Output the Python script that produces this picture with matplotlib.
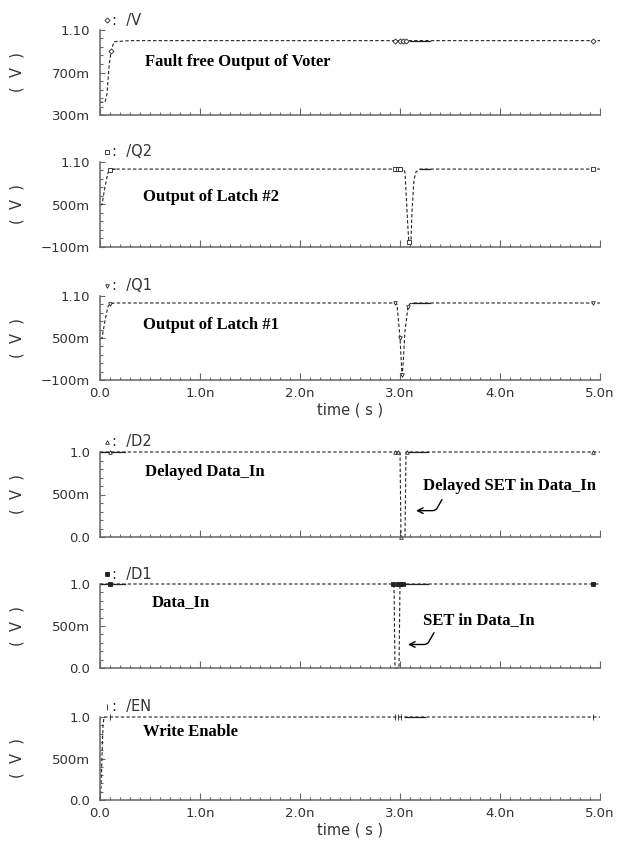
import matplotlib.pyplot as plt
import numpy as np

# time in ns, voltage in V
t_V = [0.0, 0.05, 0.07, 0.09, 0.11, 0.14, 0.3, 2.95, 3.0, 3.05, 3.1, 3.3, 4.93, 5.0]
y_V = [0.42, 0.42, 0.5, 0.75, 0.9, 0.99, 1.0, 1.0, 1.0, 1.0, 1.0, 1.0, 1.0, 1.0]
mt_V = [0.11, 2.95, 3.0, 3.03, 3.06, 4.93]
my_V = [0.9, 1.0, 1.0, 1.0, 1.0, 1.0]
solid_V = [(3.1, 3.3)]

t_Q2 = [0.0, 0.02, 0.05, 0.08, 0.1, 0.15, 2.9, 3.04, 3.05, 3.08, 3.09, 3.11, 3.12, 3.14, 3.16, 3.2, 3.3, 5.0]
y_Q2 = [0.49, 0.5, 0.75, 0.95, 0.99, 1.0, 1.0, 1.0, 0.95, 0.15, -0.05, 0.0, 0.4, 0.85, 0.96, 1.0, 1.0, 1.0]
mt_Q2 = [0.1, 2.95, 2.98, 3.0, 3.09, 4.93]
my_Q2 = [0.99, 1.0, 1.0, 1.0, -0.03, 1.0]
solid_Q2 = [(0.1, 0.15), (3.2, 3.3)]

t_Q1 = [0.0, 0.02, 0.05, 0.08, 0.1, 0.15, 2.95, 2.97, 3.0, 3.02, 3.03, 3.05, 3.08, 3.1, 3.12, 3.3, 5.0]
y_Q1 = [0.49, 0.5, 0.75, 0.95, 0.99, 1.0, 1.0, 0.98, 0.5, -0.03, 0.1, 0.6, 0.95, 0.99, 1.0, 1.0, 1.0]
mt_Q1 = [0.1, 2.95, 3.0, 3.02, 3.08, 4.93]
my_Q1 = [0.99, 1.0, 0.5, -0.03, 0.95, 1.0]
solid_Q1 = [(3.12, 3.3)]

t_D2 = [0.0, 0.25, 3.0, 3.01, 3.05, 3.06, 3.28, 5.0]
y_D2 = [1.0, 1.0, 1.0, 0.0, 0.0, 1.0, 1.0, 1.0]
mt_D2 = [0.1, 2.95, 2.98, 3.01, 3.07, 4.93]
my_D2 = [1.0, 1.0, 1.0, 0.0, 1.0, 1.0]
solid_D2 = [(0.0, 0.25), (3.06, 3.28)]

t_D1 = [0.0, 0.25, 2.94, 2.95, 2.99, 3.0, 3.28, 5.0]
y_D1 = [1.0, 1.0, 1.0, 0.0, 0.0, 1.0, 1.0, 1.0]
mt_D1 = [0.1, 2.93, 2.98, 3.0, 3.03, 4.93]
my_D1 = [1.0, 1.0, 1.0, 1.0, 1.0, 1.0]
solid_D1 = [(0.0, 0.25), (3.0, 3.28)]

t_EN = [0.0, 0.01, 0.03, 0.04, 0.1, 2.9, 3.05, 3.25, 5.0]
y_EN = [0.0, 0.15, 0.9, 1.0, 1.0, 1.0, 1.0, 1.0, 1.0]
mt_EN = [0.1, 2.95, 2.98, 3.01, 4.93]
my_EN = [1.0, 1.0, 1.0, 1.0, 1.0]
solid_EN = [(3.05, 3.25)]

x_ticks = [0, 1, 2, 3, 4, 5]
x_labels = ["0.0", "1.0n", "2.0n", "3.0n", "4.0n", "5.0n"]
yt_V, yl_V = [0.3, 0.7, 1.1], ["300m", "700m", "1.10"]
yt_Q, yl_Q = [-0.1, 0.5, 1.1], ["\u2212100m", "500m", "1.10"]
yt_D, yl_D = [0.0, 0.5, 1.0], ["0.0", "500m", "1.0"]

# name, ydata..., ylim, yticks, labels, minor step, marker, note text, note pos
panels = [
    ("/V", t_V, y_V, mt_V, my_V, solid_V, (0.3, 1.1), yt_V, yl_V, 0.08, "D",
     "Fault free Output of Voter", (0.45, 0.80)),
    ("/Q2", t_Q2, y_Q2, mt_Q2, my_Q2, solid_Q2, (-0.1, 1.1), yt_Q, yl_Q, 0.12, "s",
     "Output of Latch #2", (0.43, 0.60)),
    ("/Q1", t_Q1, y_Q1, mt_Q1, my_Q1, solid_Q1, (-0.1, 1.1), yt_Q, yl_Q, 0.12, "v",
     "Output of Latch #1", (0.43, 0.68)),
    ("/D2", t_D2, y_D2, mt_D2, my_D2, solid_D2, (0.0, 1.0), yt_D, yl_D, 0.1, "^",
     "Delayed Data_In", (0.45, 0.76)),
    ("/D1", t_D1, y_D1, mt_D1, my_D1, solid_D1, (0.0, 1.0), yt_D, yl_D, 0.1, "s",
     "Data_In", (0.52, 0.79)),
    ("/EN", t_EN, y_EN, mt_EN, my_EN, solid_EN, (0.0, 1.0), yt_D, yl_D, 0.1, "|",
     "Write Enable", (0.43, 0.82)),
]

# axes boxes in pixels (top, bottom) of the 630x841 image
boxes = [(30, 115), (162, 247), (296, 380), (452, 537), (584, 668), (717, 800)]
W, H = 630, 841
ink = "#222222"
axc = "#666666"
txt = "#333333"

fig = plt.figure(figsize=(W / 100, H / 100), dpi=100)

axes = []
for (name, t, y, mt, my, solid, ylim, yt, yl, mstep, mk, note, npos), (top, bot) in zip(panels, boxes):
    ax = fig.add_axes([100 / W, 1 - bot / H, 500 / W, (bot - top) / H])
    axes.append(ax)
    t = np.array(t)
    y = np.array(y)
    ax.plot(t, y, color=ink, lw=0.8, ls=(0, (3, 2)), clip_on=False)
    for a, b in solid:
        m = (t >= a) & (t <= b)
        ax.plot(t[m], y[m], color=ink, lw=0.9, clip_on=False)
    filled = name == "/D1"
    ax.plot(mt, my, ls="none", marker=mk, ms=2.6 if mk != "|" else 4,
            mfc=ink if filled else "white", mec=ink, mew=0.6, clip_on=False)

    ax.set_xlim(0, 5)
    ax.set_ylim(*ylim)
    ax.set_xticks(x_ticks)
    ax.set_xticks(np.arange(0, 5.001, 0.1), minor=True)
    ax.set_yticks(yt)
    ax.set_yticklabels(yl)
    ax.set_yticks(np.arange(ylim[0], ylim[1] + 1e-6, mstep), minor=True)
    for s in ("top", "right"):
        ax.spines[s].set_visible(False)
    for s in ("left", "bottom"):
        ax.spines[s].set_color(axc)
        ax.spines[s].set_linewidth(1.1)
    ax.tick_params(axis="x", which="major", direction="in", length=5, width=0.8, color=axc,
                   labelsize=9.5, labelcolor=txt, pad=5)
    ax.tick_params(axis="x", which="minor", direction="in", length=2.4, width=0.8, color=axc)
    ax.tick_params(axis="y", which="major", direction="in", length=3.6, width=0.8, color=axc,
                   labelsize=9.5, labelcolor=txt, pad=7)
    ax.tick_params(axis="y", which="minor", direction="in", length=2, width=0.8, color=axc)
    ax.set_ylabel("(  V  )", fontsize=10.5, color=txt)
    ax.yaxis.set_label_coords(-0.15, 0.5)

    # signal name above the box with its marker glyph
    ax.plot([0.014], [1.0 + 10 / (bot - top)], transform=ax.transAxes, ls="none",
            marker=mk, ms=2.6 if mk != "|" else 4, mfc=ink if filled else "white",
            mec=ink, mew=0.6, clip_on=False)
    ax.text(0.024, 1.0 + 10 / (bot - top), ":  " + name, transform=ax.transAxes,
            fontsize=10.5, color=txt, va="center", ha="left")

    ax.text(npos[0], npos[1], note, fontsize=12, fontweight="bold",
            family="Liberation Serif", va="center", ha="left", color="black")

for i, ax in enumerate(axes):
    if i in (2, 5):
        ax.set_xticklabels(x_labels)
        ax.set_xlabel("time ( s )", fontsize=10.5, color=txt, labelpad=2)
    else:
        ax.set_xticklabels([])

# SET notes with hooked arrows
arr = dict(arrowstyle="->", color="black", lw=1.0, shrinkA=0, shrinkB=0,
           connectionstyle="angle,angleA=60,angleB=0,rad=3")
axes[3].text(3.23, 0.60, "Delayed SET in Data_In", fontsize=12, fontweight="bold",
             family="Liberation Serif", va="center", ha="left")
axes[3].annotate("", xy=(3.16, 0.31), xytext=(3.42, 0.44), arrowprops=arr)
axes[4].text(3.23, 0.575, "SET in Data_In", fontsize=12, fontweight="bold",
             family="Liberation Serif", va="center", ha="left")
axes[4].annotate("", xy=(3.08, 0.28), xytext=(3.34, 0.42), arrowprops=arr)

fig.savefig("out.png", dpi=100, facecolor="white")
